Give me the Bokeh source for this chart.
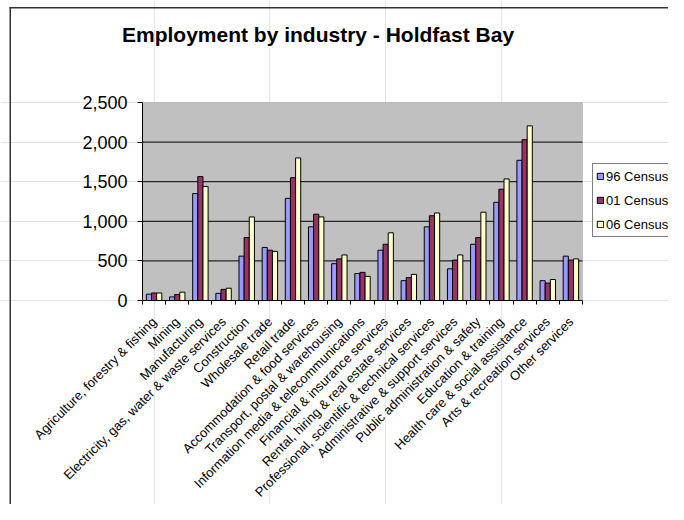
import math
from bokeh.plotting import figure
from bokeh.models import (ColumnDataSource, FixedTicker, NumeralTickFormatter, LinearAxis,
                          Legend, LegendItem, Range1d, Label, BoxAnnotation)
from bokeh.transform import dodge
from bokeh.embed import file_html
from bokeh.resources import INLINE

industries = [
    "Agriculture, forestry & fishing",
    "Mining",
    "Manufacturing",
    "Electricity, gas, water & waste services",
    "Construction",
    "Wholesale trade",
    "Retail trade",
    "Accommodation & food services",
    "Transport, postal & warehousing",
    "Information media & telecommunications",
    "Financial & insurance services",
    "Rental, hiring & real estate services",
    "Professional, scientific & technical services",
    "Administrative & support services",
    "Public administration & safety",
    "Education & training",
    "Health care & social assistance",
    "Arts & recreation services",
    "Other services",
]
census_96 = [80, 45, 1350, 90, 560, 670, 1290, 930, 465, 340, 635, 250, 930, 400, 710, 1240, 1770, 250, 560]
census_01 = [95, 75, 1565, 140, 795, 635, 1550, 1090, 525, 355, 710, 290, 1070, 510, 795, 1405, 2030, 220, 510]
census_06 = [95, 105, 1440, 155, 1055, 620, 1800, 1055, 575, 305, 855, 330, 1105, 575, 1115, 1535, 2205, 265, 525]
series_names = ["96 Census", "01 Census", "06 Census"]
series_colors = ["#9999FF", "#993366", "#FFFFCC"]
y_ticks = [0, 500, 1000, 1500, 2000, 2500]
chart_title = "Employment by industry - Holdfast Bay"

FONT = "Liberation Sans"
# layout (pixels): canvas size and the grey plot area inside it
W, H = 668, 504
LEFT, PLOT_W, TOP, PLOT_H = 142, 440, 102, 198

n = len(industries)
idx = list(range(n))
y_lo_v, y_hi_v = y_ticks[0], y_ticks[-1]


def px_x(px):
    return -0.5 + (px - LEFT) * n / PLOT_W


def px_y(py):
    return y_hi_v - (py - TOP) * (y_hi_v - y_lo_v) / PLOT_H


source = ColumnDataSource(dict(x=idx, s96=census_96, s01=census_01, s06=census_06))

# the frame covers the whole canvas; axes sit at fixed locations inside it
p = figure(width=W, height=H, output_backend="svg", toolbar_location=None,
           x_range=Range1d(px_x(0), px_x(W)), y_range=Range1d(px_y(H), px_y(0)),
           x_axis_location=None, y_axis_location=None, min_border=0,
           background_fill_color="white", border_fill_color="white",
           outline_line_color=None)

# chart-area border: top and left edges (the rest runs off the picture)
border_top = BoxAnnotation(left=px_x(9), top=px_y(6.5), bottom=px_y(8), fill_color="#333333",
                           fill_alpha=1, line_color=None, level="underlay")
border_left = BoxAnnotation(left=px_x(9), right=px_x(10.5), top=px_y(6.5), fill_color="#333333",
                            fill_alpha=1, line_color=None, level="underlay")
p.add_layout(border_top)
p.add_layout(border_left)

# grey plot area
plot_area = BoxAnnotation(left=-0.5, right=n - 0.5, bottom=y_lo_v, top=y_hi_v,
                          fill_color="#C0C0C0", fill_alpha=1, line_color="#808080",
                          line_width=1, level="underlay")
p.add_layout(plot_area)

grid_vals = [t for t in y_ticks if y_lo_v < t < y_hi_v]
p.segment(x0=-0.5, x1=n - 0.5, y0=grid_vals, y1=grid_vals, line_color="black", line_width=1)

bw = 0.222
renderers = []
for name, col, off, color in zip(series_names, ["s96", "s01", "s06"], [-bw, 0, bw], series_colors):
    r = p.vbar(x=dodge("x", off, range=p.x_range), top=col, width=bw, source=source,
               fill_color=color, line_color="black", line_width=1)
    renderers.append((name, r))

# x axis: labels at category centres, tick marks between categories
xaxis = LinearAxis(fixed_location=y_lo_v, bounds=(-0.5, n - 0.5),
                   ticker=FixedTicker(ticks=idx, minor_ticks=[i - 0.5 for i in range(n + 1)]),
                   major_label_overrides={i: nm for i, nm in zip(idx, industries)},
                   major_label_orientation=math.pi / 4,
                   major_tick_in=0, major_tick_out=0, minor_tick_in=0, minor_tick_out=4,
                   major_label_text_font=FONT, major_label_text_font_size="13px",
                   major_label_text_color="black", major_label_standoff=15,
                   axis_line_color="black", minor_tick_line_color="black")
p.add_layout(xaxis, "below")

yaxis = LinearAxis(fixed_location=-0.5, bounds=(y_lo_v, y_hi_v),
                   ticker=FixedTicker(ticks=y_ticks), formatter=NumeralTickFormatter(format="0,0"),
                   major_tick_in=0, major_tick_out=5, minor_tick_line_color=None,
                   major_label_text_font=FONT, major_label_text_font_size="18px",
                   major_label_text_color="black", major_label_standoff=10,
                   axis_line_color="black", major_tick_line_color="black")
p.add_layout(yaxis, "left")

title = Label(x=px_x(121.5), y=px_y(33.5), text=chart_title, text_font=FONT,
              text_font_size="21px", text_font_style="bold", text_color="black",
              text_align="left", text_baseline="alphabetic")
p.add_layout(title)

legend = Legend(items=[LegendItem(label=nm, renderers=[r]) for nm, r in renderers],
                location=(592, H - 237), orientation="vertical",
                label_text_font=FONT, label_text_font_size="13px", label_text_color="black",
                glyph_width=8, glyph_height=8, label_standoff=2, label_height=18,
                label_width=90, spacing=6, padding=3, margin=0,
                border_line_color="black", border_line_width=1,
                background_fill_color="white", background_fill_alpha=1)
p.add_layout(legend, "center")

open("out.html", "w").write(file_html(p, INLINE))
